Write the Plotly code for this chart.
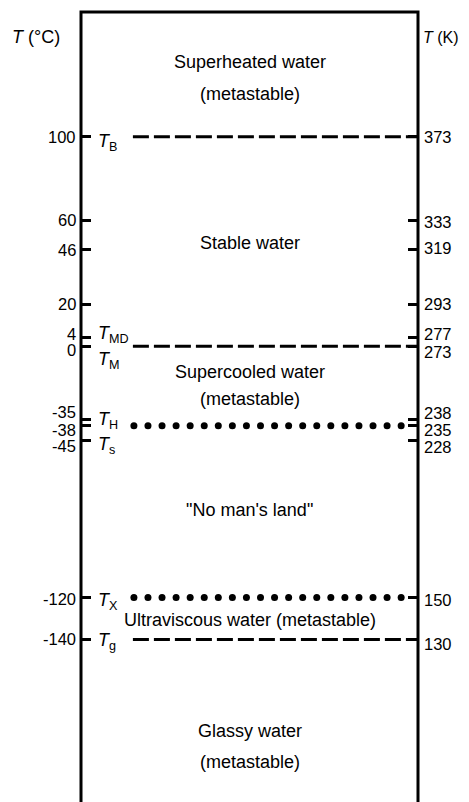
import numpy as np
import plotly.graph_objects as go

# ---------------- data ----------------
celsius_ticks = [100, 60, 46, 20, 4, 0, -35, -38, -45, -120, -140]
celsius_labels = ["100", "60", "46", "20", "4", "0", "-35", "-38", "-45", "-120", "-140"]
kelvin_labels = ["373", "333", "319", "293", "277", "273", "238", "235", "228", "150", "130"]

line_temps = [100, 0, -38, -120, -140]
line_styles = ["dash", "dash", "dot", "dot", "dash"]

symbol_temps = [100, 4, 0, -38, -45, -120, -140]
symbol_names = ["B", "MD", "M", "H", "s", "X", "g"]

region_texts = ["Superheated water", "(metastable)", "Stable water",
                "Supercooled water", "(metastable)", "\"No man's land\"",
                "Ultraviscous water (metastable)", "Glassy water", "(metastable)"]
region_temps = [135.8, 120.5, 49.4, -12.4, -25.3, -78, -130.7, -183.7, -198.5]

# ---------------- styling ----------------
FONT = "Liberation Sans, Arial, Helvetica, sans-serif"
FS = 16.5
# page body has an 8px margin, so the figure is offset by 8px
W, H = 461, 794
ML, MR, MT, MB = 73, 51, 4, 0
y_range = [-217.6, 159.6]

left_shift = [0, 1, 0, 0, 4, -4, 8, -4, -5, -1, 0]
right_shift = [0, -1, 2, 0, 4, -6, 7, -4, -6, -2, -5]
symbol_shift = [-6, 3, -14, 5, -5, -4, -2]

fig = go.Figure()

x0_dash, x1_dash = 0.154, 1.0
x0_dot, x1_dot = 0.157, 0.950
for t, st in zip(line_temps, line_styles):
    if st == "dash":
        fig.add_trace(go.Scatter(x=[x0_dash, x1_dash], y=[t, t], mode="lines",
                                 line=dict(color="black", width=3, dash="16px,5px"),
                                 hoverinfo="skip", showlegend=False))
    else:
        xs = np.linspace(x0_dot, x1_dot, 20)
        fig.add_trace(go.Scatter(x=xs, y=[t] * len(xs), mode="markers",
                                 marker=dict(color="black", size=7),
                                 hoverinfo="skip", showlegend=False))

annotations = []
for v, lab, sh in zip(celsius_ticks, celsius_labels, left_shift):
    annotations.append(dict(x=0, xref="paper", y=v, yref="y", text=lab,
                            xanchor="right", yanchor="middle", xshift=-3, yshift=sh,
                            showarrow=False, font=dict(family=FONT, size=FS, color="black")))
for v, lab, sh in zip(celsius_ticks, kelvin_labels, right_shift):
    annotations.append(dict(x=1, xref="paper", y=v, yref="y", text=lab,
                            xanchor="left", yanchor="middle", xshift=4, yshift=sh,
                            showarrow=False, font=dict(family=FONT, size=FS, color="black")))
for v, nm, sh in zip(symbol_temps, symbol_names, symbol_shift):
    annotations.append(dict(x=0, xref="paper", y=v, yref="y",
                            text="<i>T</i><sub>%s</sub>" % nm,
                            xanchor="left", yanchor="middle", xshift=15, yshift=sh,
                            showarrow=False, font=dict(family=FONT, size=18, color="black")))
for txt, v in zip(region_texts, region_temps):
    annotations.append(dict(x=0.5, xref="paper", y=v, yref="y", text=txt,
                            xanchor="center", yanchor="middle",
                            showarrow=False, font=dict(family=FONT, size=18, color="black")))

annotations.append(dict(x=0, xref="paper", y=1, yref="paper", text="<i>T</i> (°C)",
                        xanchor="right", yanchor="middle", xshift=-19, yshift=-25,
                        showarrow=False, font=dict(family=FONT, size=18, color="black")))
annotations.append(dict(x=1, xref="paper", y=1, yref="paper", text="<i>T</i> (K)",
                        xanchor="left", yanchor="middle", xshift=3, yshift=-25,
                        showarrow=False, font=dict(family=FONT, size=16, color="black")))

fig.update_layout(
    width=W, height=H,
    margin=dict(l=ML, r=MR, t=MT, b=MB, pad=0),
    paper_bgcolor="white", plot_bgcolor="white",
    showlegend=False,
    xaxis=dict(range=[0, 1], visible=False, fixedrange=True),
    yaxis=dict(range=y_range, tickvals=celsius_ticks, showticklabels=False,
               ticks="inside", ticklen=10, tickwidth=3, tickcolor="black",
               mirror="ticks", showline=False, showgrid=False, zeroline=False,
               fixedrange=True),
    annotations=annotations,
    shapes=[dict(type="path", xref="paper", yref="paper",
                 path="M 0,0 L 0,1 L 1,1 L 1,0",
                 line=dict(color="black", width=3), layer="above")],
)

fig.write_html("out.html")
